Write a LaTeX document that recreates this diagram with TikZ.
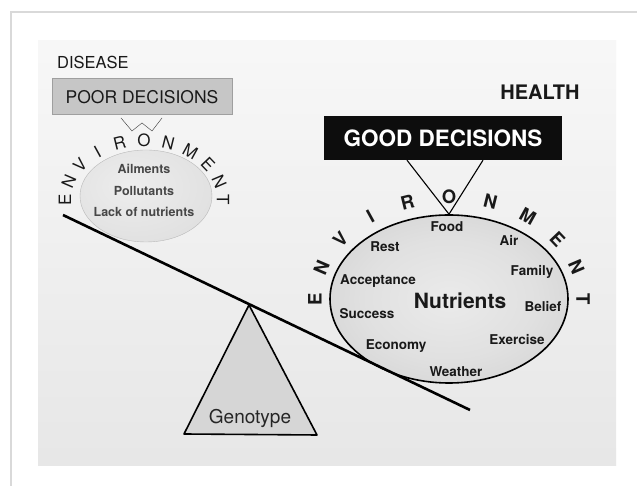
\documentclass[tikz,border=0pt]{standalone}
\usepackage{fontspec}
\setmainfont{TeX Gyre Heros}
\usetikzlibrary{shapes.geometric,calc}

\pgfdeclareradialshading{goodshade}{\pgfpoint{0bp}{0bp}}{color(0bp)=(gray!16); color(18bp)=(gray!24); color(50bp)=(gray!48); color(100bp)=(gray!48)}
\pgfdeclareradialshading{poorshade}{\pgfpoint{-6bp}{6bp}}{color(0bp)=(gray!14); color(50bp)=(gray!30); color(100bp)=(gray!30)}

\begin{document}
\begin{tikzpicture}[x=1pt,y=1pt,
	word/.style={font=\fontsize{13.5}{15}\selectfont\bfseries, text=black!90, inner sep=0pt},
	ailword/.style={font=\fontsize{12.5}{14}\selectfont\bfseries, text=black!72, inner sep=0pt},
	smallletter/.style={font=\fontsize{17}{19}\selectfont, text=black!90, inner sep=0pt},
	bigletter/.style={font=\fontsize{18.5}{20}\selectfont\bfseries, text=black!90, inner sep=0pt}]
	
	% Page and photo
	\useasboundingbox (0,0) rectangle (637,486);
	\fill[white] (0,0) rectangle (637,486);
	\draw[gray!30, line width=1.5pt] (637,474) -- (11,474) -- (11,0);
	\shade[top color=gray!6, bottom color=gray!19] (38,20) rectangle (616,445);
	
	% Disease side
	\node[anchor=west, font=\fontsize{16.5}{18}\selectfont, text=black!90, inner sep=0pt] (disease) at (57,424) {DISEASE};
	\node[draw=gray!75, line width=1pt, fill=gray!45, minimum width=180, minimum height=36, inner sep=0pt, font=\fontsize{17.5}{19}\selectfont, text=black!90] (poor) at (142,389) {POOR DECISIONS};
	\draw[black!80, thin] (121,368) -- (132,355) -- (142,363) -- (152,355) -- (162,368);
	
	\node[ellipse, draw=gray!55, shading=poorshade, minimum width=132, minimum height=92, inner sep=0pt] (poorenv) at (146,290) {};
	\node[ailword] (ailments) at (144,317) {Ailments};
	\node[ailword] (pollutants) at (144,295) {Pollutants};
	\node[ailword] (lack) at (144,274) {Lack of nutrients};
	
	\coordinate (lc) at (144,286);
	\foreach \ch [count=\i from 0] in {E,N,V,I,R,O,N,M,E,N,T} {
		\pgfmathsetmacro\t{180-18*\i}
		\pgfmathsetmacro\rot{atan2(79*sin(\t),60*cos(\t))-90}
		\node[smallletter, rotate=\rot] (lenv\i) at ($(lc)+(\t:79 and 60)$) {\ch};
	}
	
	% Health side
	\node[font=\fontsize{20}{22}\selectfont\bfseries, text=black!90, inner sep=0pt] (health) at (540,394) {HEALTH};
	\node[fill=black!95, minimum width=238, minimum height=44, inner sep=0pt, font=\fontsize{22.5}{24}\selectfont\bfseries, text=white] (good) at (443,348) {GOOD DECISIONS};
	
	\node[ellipse, draw=black, line width=1.6pt, shading=goodshade, minimum width=238, minimum height=168, inner sep=0pt] (goodenv) at (449,187) {};
	\draw[black, line width=1.1pt] ($(good.south)+(-36,0)$) -- (goodenv.north) -- ($(good.south)+(40,0)$);
	
	\node[word] (food) at (447,259) {Food};
	\node[word] (rest) at (385,239) {Rest};
	\node[word] (air) at (509,246) {Air};
	\node[word] (family) at (532,214) {Family};
	\node[word] (acceptance) at (378,205) {Acceptance};
	\node[word, font=\fontsize{21}{23}\selectfont\bfseries] (nutrients) at (460,185) {Nutrients};
	\node[word] (belief) at (543,179) {Belief};
	\node[word] (success) at (367,172) {Success};
	\node[word] (exercise) at (517,146) {Exercise};
	\node[word] (economy) at (396,140) {Economy};
	\node[word] (weather) at (456,114) {Weather};
	
	\coordinate (rc) at (449,187);
	\foreach \ch [count=\i from 0] in {E,N,V,I,R,O,N,M,E,N,T} {
		\pgfmathsetmacro\t{180-18*\i}
		\pgfmathsetmacro\rot{atan2(134*sin(\t),102*cos(\t))-90}
		\node[bigletter, rotate=\rot] (renv\i) at ($(rc)+(\t:134 and 102)$) {\ch};
	}
	
	% Balance
	\coordinate (pivot) at (249,181);
	\coordinate (beamL) at (63,271);
	\coordinate (beamR) at (470,76);
	\filldraw[fill=gray!32, draw=black, line width=1.6pt, line join=round] (pivot) -- (317,51) -- (184,52) -- cycle;
	\node[font=\fontsize{19}{21}\selectfont, text=black!85, inner sep=0pt] (genotype) at (250,68) {Genotype};
	\draw[black, line width=2.6pt] (beamL) -- (beamR);
	
\end{tikzpicture}
\end{document}
